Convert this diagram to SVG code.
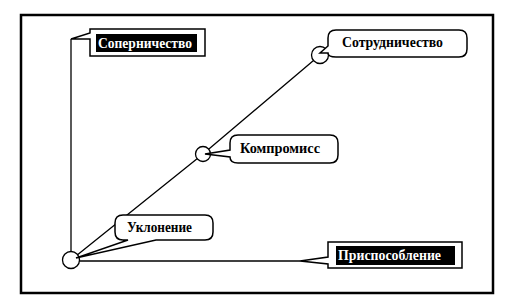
<svg xmlns="http://www.w3.org/2000/svg" width="519" height="305" viewBox="0 0 519 305">
<style>
.ln{stroke:#000;stroke-width:1.3;fill:none}
.co{fill:#fff;stroke:#000;stroke-width:1.5;stroke-linejoin:miter}
.pt{fill:#fff;stroke:#000;stroke-width:1.3}
.tx{font-family:"Liberation Serif","Times New Roman",serif;font-weight:700;font-size:14.5px;fill:#000}
.wt{fill:#fff}
</style>
<rect x="0" y="0" width="519" height="305" fill="#fff"/>
<rect x="21" y="15" width="472" height="278" fill="none" stroke="#000" stroke-width="2.5"/>
<g id="connectors">
<line class="ln" x1="71" y1="39" x2="71" y2="260"/>
<line class="ln" x1="71" y1="261" x2="300" y2="261"/>
<polyline class="ln" points="71,260 203,154 320,55"/>
</g>
<g id="origin"><circle class="pt" cx="71" cy="260" r="8.5"/></g>
<g id="p-kompromiss"><circle class="pt" cx="203" cy="154" r="7.5"/></g>
<g id="p-sotrud"><circle class="pt" cx="320" cy="55" r="8.5"/></g>
<g id="sopernichestvo">
<path class="co" d="M90,29 H205 V56 H90 V39 L71,39 L90,33 Z"/>
<rect x="96" y="34" width="101" height="18" fill="#000"/>
<text class="tx wt" x="98" y="48" textLength="94" lengthAdjust="spacingAndGlyphs">Соперничество</text>
</g>
<g id="sotrudnichestvo">
<path class="co" d="M336,30 H459 Q467,30 467,38 V49 Q467,57 459,57 H336 Q328,57 328,53 L320,53 L328,46 V38 Q328,30 336,30 Z"/>
<text class="tx" x="342" y="47" textLength="101" lengthAdjust="spacingAndGlyphs">Сотрудничество</text>
</g>
<g id="kompromiss">
<path class="co" d="M238,135 H330 Q338,135 338,143 V155 Q338,163 330,163 H238 Q230,163 230,157 L205,154 L230,150 V143 Q230,135 238,135 Z"/>
<text class="tx" x="240" y="153" textLength="80" lengthAdjust="spacingAndGlyphs">Компромисс</text>
</g>
<g id="uklonenie">
<path class="co" d="M123,215 H205 Q213,215 213,223 V232 Q213,240 205,240 H156 L76,258 L128,240 H123 Q115,240 115,232 V223 Q115,215 123,215 Z"/>
<text class="tx" x="127" y="232" textLength="65" lengthAdjust="spacingAndGlyphs">Уклонение</text>
</g>
<g id="prisposoblenie">
<path class="co" d="M328,242 H462 V268 H328 V264 L300,261 L328,257 Z"/>
<rect x="336" y="246" width="119" height="19" fill="#000"/>
<text class="tx wt" x="338" y="260" textLength="103" lengthAdjust="spacingAndGlyphs">Приспособление</text>
</g>
</svg>
